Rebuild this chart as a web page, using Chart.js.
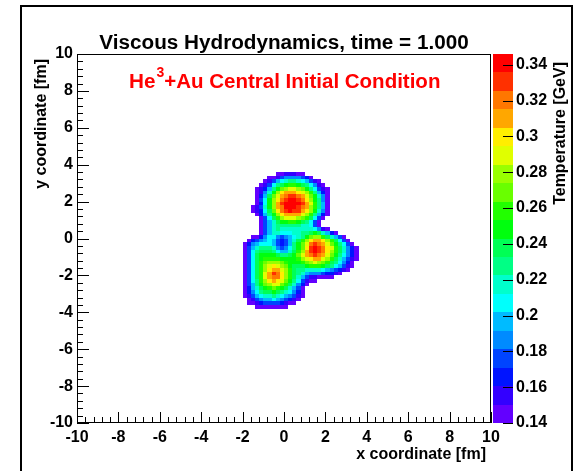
<!DOCTYPE html>
<html>
<head>
<meta charset="utf-8">
<title>Viscous Hydrodynamics - He3+Au</title>
<script src="https://cdn.jsdelivr.net/npm/chart.js@4.4.1/dist/chart.umd.min.js"></script>
<style>
  html, body { margin: 0; padding: 0; background: #fff; }
</style>
</head>
<body>
<canvas id="hydro" width="577" height="471"></canvas>
<script>
// Temperature in the transverse plane, He3+Au central, t = 1.000 fm/c

const T_MIN = 0.14;
const T_MAX = 0.346;
const N_CONTOURS = 20;

const axisTicks = [-10, -8, -6, -4, -2, 0, 2, 4, 6, 8, 10];
const tempTicks = [0.14, 0.16, 0.18, 0.2, 0.22, 0.24, 0.26, 0.28, 0.3, 0.32, 0.34];
const tempTickLabels = ['0.14', '0.16', '0.18', '0.2', '0.22', '0.24', '0.26', '0.28', '0.3', '0.32', '0.34'];

// cells are 0.2 fm wide; column 0 starts at x = -2.0, row 0 starts at y = 3.6 (going down)
const cellX0 = -2.0;
const cellY0 = 3.6;
const cellSize = 0.2;

// one char per cell = contour band ('0'..'9','a'..'j' -> 0..19), '.' = below 0.14 GeV
const bandRows = [
  '........0011100.............',
  '......00134444320...........',
  '.....01356788765310.........',
  '....013689abba986410........',
  '...01258acdeedca86310.......',
  '...0147adfgggfedb8520.......',
  '...0259ceghiihgeca740.......',
  '...036adfhijjihfda840.......',
  '...026adgijjjjigeb850.......',
  '..0137adghjjjihgdb850.......',
  '..01269cfhijiigfda740.......',
  '...0258adfggggedb8520.......',
  '....0369bdeeedcb9630........',
  '....03579aabba98630.........',
  '....035788888877630.........',
  '....03578777777776410.......',
  '....0357766677889a97520.....',
  '..0024664345678acddb97530...',
  '.0234565323579bdfggfdb9630..',
  '0245666532358acehihgeca8630.',
  '0357888743468acfijihfeb97420',
  '0368999865579bdgijihfdb97420',
  '0369aaaa9889aceghihgeca86420',
  '0369abbbbaaaabdefggedb975310',
  '0369bcdddcbaaabcdedcb986420.',
  '0369bdefedca999abbba9865310.',
  '0369bdfggedb98877776543210..',
  '0369begihfdb987544432210....',
  '0369beghhfdb9753110000......',
  '0368bdfgfeca863100..........',
  '0358acdeecb97420............',
  '02579abcba97530.............',
  '0246899a9876420.............',
  '013567787654310.............',
  '.0134556543210..............',
  '.001233332100...............',
  '...00000000.................'
];

// ROOT pretty palette, one colour per contour band
const palette = [
  '#6300ff', '#3300ff', '#0014ff', '#0044ff', '#008bff',
  '#00bbff', '#00fffc', '#00ffcc', '#00ff85', '#00ff55',
  '#00ff0e', '#22ff00', '#69ff00', '#99ff00', '#e0ff00',
  '#ffee00', '#ffa700', '#ff7700', '#ff3000', '#ff0000'
];

const FONT = "'Liberation Sans', Arial, Helvetica, sans-serif";
const BAND_KEYS = '0123456789abcdefghij';
const tStep = (T_MAX - T_MIN) / N_CONTOURS;

// decode the rows into cell centres with a temperature each
const cells = [];
bandRows.forEach((row, r) => {
  [...row].forEach((ch, c) => {
    const k = BAND_KEYS.indexOf(ch);
    if (k < 0) return;
    cells.push({
      x: +(cellX0 + cellSize * (c + 0.5)).toFixed(2),
      y: +(cellY0 - cellSize * (r + 0.5)).toFixed(2),
      t: T_MIN + tStep * (k + 0.5)
    });
  });
});

function colorFor(t) {
  let k = Math.floor((t - T_MIN) / tStep);
  k = Math.max(0, Math.min(N_CONTOURS - 1, k));
  return palette[k];
}

// filled boxes for every cell (COLZ style)
const cellPlugin = {
  id: 'cells',
  beforeDatasetsDraw(chart) {
    const { ctx, chartArea: a, scales: { x, y } } = chart;
    const half = cellSize / 2;
    ctx.save();
    ctx.beginPath();
    ctx.rect(a.left, a.top, a.width, a.height);
    ctx.clip();
    chart.data.datasets[0].data.forEach(p => {
      const x0 = Math.round(x.getPixelForValue(p.x - half));
      const x1 = Math.round(x.getPixelForValue(p.x + half));
      const y0 = Math.round(y.getPixelForValue(p.y + half));
      const y1 = Math.round(y.getPixelForValue(p.y - half));
      ctx.fillStyle = colorFor(p.t);
      ctx.fillRect(x0, y0, x1 - x0, y1 - y0);
    });
    ctx.restore();
  }
};

// frame, inward ticks, palette bar and all the titles
const framePlugin = {
  id: 'frame',
  afterDraw(chart) {
    const { ctx, chartArea: a, scales: { x, y, z } } = chart;
    ctx.save();

    // palette bar
    const barL = a.right + 2;
    const barW = 20;
    for (let k = 0; k < N_CONTOURS; k++) {
      const yLo = Math.round(z.getPixelForValue(T_MIN + k * tStep));
      const yHi = Math.round(z.getPixelForValue(T_MIN + (k + 1) * tStep));
      ctx.fillStyle = palette[k];
      ctx.fillRect(barL, yHi, barW, yLo - yHi);
    }

    ctx.strokeStyle = '#000';
    ctx.lineWidth = 1;
    ctx.beginPath();
    tempTicks.forEach(t => {
      const py = Math.round(z.getPixelForValue(t)) + 0.5;
      ctx.moveTo(barL + barW - 10, py);
      ctx.lineTo(barL + barW, py);
    });
    ctx.stroke();

    // plot frame
    ctx.strokeRect(Math.round(a.left) + 0.5, Math.round(a.top) + 0.5,
      Math.round(a.width) - 1, Math.round(a.height) - 1);

    // major every 2 fm, minor every 0.4 fm
    ctx.beginPath();
    for (let i = 0; i <= 50; i++) {
      const v = -10 + i * 0.4;
      const major = i % 5 === 0;
      const px = Math.round(x.getPixelForValue(v)) + 0.5;
      ctx.moveTo(px, a.bottom);
      ctx.lineTo(px, a.bottom - (major ? 11 : 6));
      const py = Math.round(y.getPixelForValue(v)) + 0.5;
      ctx.moveTo(a.left, py);
      ctx.lineTo(a.left + (major ? 12 : 6), py);
    }
    ctx.stroke();

    // title
    ctx.fillStyle = '#000';
    ctx.font = `bold 20.7px ${FONT}`;
    ctx.textAlign = 'center';
    ctx.textBaseline = 'alphabetic';
    ctx.fillText('Viscous Hydrodynamics, time = 1.000', (a.left + a.right) / 2, 49);

    // system label
    ctx.fillStyle = '#ff0000';
    ctx.textAlign = 'left';
    let tx = 129;
    const ty = 88;
    ctx.fillText('He', tx, ty);
    tx += ctx.measureText('He').width + 1;
    ctx.font = `bold 14px ${FONT}`;
    ctx.fillText('3', tx, ty - 11);
    tx += ctx.measureText('3').width;
    ctx.font = `bold 20.5px ${FONT}`;
    ctx.fillText('+Au Central Initial Condition', tx, ty);

    // axis titles
    ctx.fillStyle = '#000';
    ctx.font = `bold 16px ${FONT}`;
    ctx.textAlign = 'right';
    ctx.textBaseline = 'middle';
    ctx.fillText('x coordinate [fm]', 486, 455);

    ctx.save();
    ctx.translate(42, 59);
    ctx.rotate(-Math.PI / 2);
    ctx.fillText('y coordinate [fm]', 0, 0);
    ctx.restore();

    ctx.save();
    ctx.translate(561, 62);
    ctx.rotate(-Math.PI / 2);
    ctx.fillText('Temperature [GeV]', 0, 0);
    ctx.restore();

    // canvas border
    ctx.lineWidth = 2;
    ctx.beginPath();
    ctx.moveTo(21, 471);
    ctx.lineTo(21, 6);
    ctx.lineTo(572, 6);
    ctx.lineTo(572, 471);
    ctx.stroke();

    ctx.restore();
  }
};

const tickFont = { family: FONT, size: 16, weight: 'bold' };

new Chart(document.getElementById('hydro'), {
  type: 'scatter',
  data: {
    datasets: [{
      label: 'Temperature',
      data: cells,
      pointRadius: 0,
      pointHoverRadius: 0
    }]
  },
  options: {
    responsive: false,
    animation: false,
    devicePixelRatio: 1,
    layout: { padding: { left: 22, top: 54, right: 0, bottom: 0 } },
    plugins: {
      legend: { display: false },
      tooltip: { enabled: false }
    },
    scales: {
      x: {
        type: 'linear',
        min: -10,
        max: 10,
        afterBuildTicks: s => { s.ticks = axisTicks.map(v => ({ value: v })); },
        afterFit: s => { s.height = 48; },
        grid: { display: false, drawTicks: false },
        border: { display: false },
        ticks: {
          color: '#000', font: tickFont, padding: 5,
          maxRotation: 0, autoSkip: false,
          callback: v => String(v)
        }
      },
      y: {
        type: 'linear',
        position: 'left',
        min: -10,
        max: 10,
        afterBuildTicks: s => { s.ticks = axisTicks.map(v => ({ value: v })); },
        afterFit: s => { s.width = 55; },
        grid: { display: false, drawTicks: false },
        border: { display: false },
        ticks: {
          color: '#000', font: tickFont, padding: 4,
          autoSkip: false,
          callback: v => String(v)
        }
      },
      z: {
        type: 'linear',
        axis: 'y',
        position: 'right',
        min: T_MIN,
        max: T_MAX,
        afterBuildTicks: s => { s.ticks = tempTicks.map(v => ({ value: v })); },
        afterFit: s => { s.width = 86; },
        grid: { display: false, drawTicks: false },
        border: { display: false },
        ticks: {
          color: '#000', font: tickFont, padding: 25,
          autoSkip: false,
          callback: (v, i) => tempTickLabels[i]
        }
      }
    }
  },
  plugins: [cellPlugin, framePlugin]
});
</script>
</body>
</html>
